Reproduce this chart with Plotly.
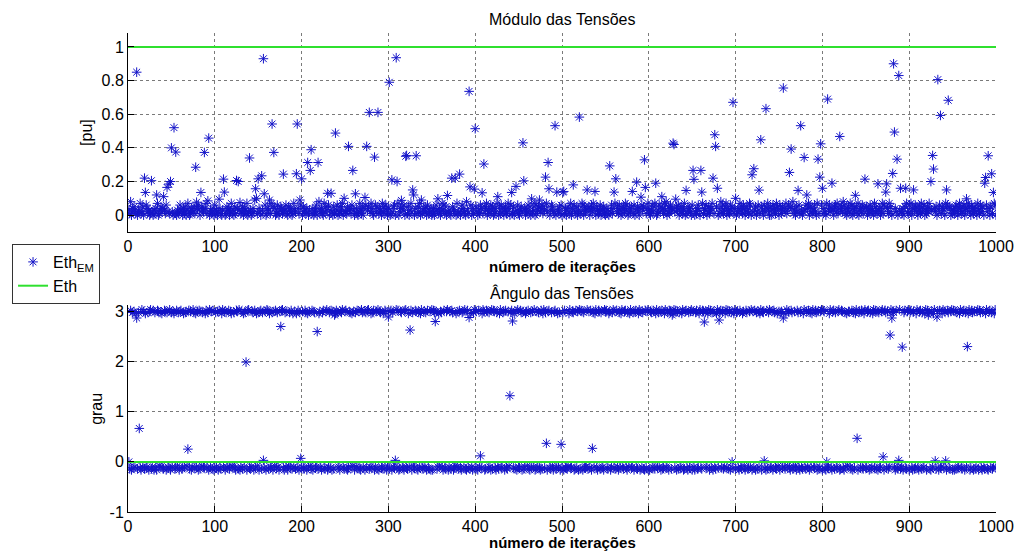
import plotly.graph_objects as go

# ---------------------------------------------------------------- dados
eixo_x = [0, 1000]
ticks_x = [0, 100, 200, 300, 400, 500, 600, 700, 800, 900, 1000]
ticks_modulo = [0, 0.2, 0.4, 0.6, 0.8, 1]
ticks_angulo = [-1, 0, 1, 2, 3]
faixa_modulo = [-0.1, 1.083]
faixa_angulo = [-1, 3.13]

eth_modulo = 1.0   # valor de referência do módulo [pu]
eth_angulo = 0.0   # valor de referência do ângulo [grau]

# módulo estimado em cada iteração, em centésimos de pu (faixa densa)
modulo_faixa = [
    "3120425314 0327125031 6423015203 1427013524 0316025143",
    "2041503126 3204150372 0143251024 6301532047 1250312406",
    "1302541036 2015340271 3051240361 2504317025 3014260315",
    "4201352601 4301725340 1620354102 3610534201 7325041360",
    "0523147032 5140236015 3241072531 6034205143 6021537042",
    "2150341623 0541027315 0426135027 4103625014 3072516304",
    "3014256031 7024153602 4150372160 4315270913 4250613240",
    "1402635140 2736150423 1065324071 2503641205 3172604135",
    "5203164012 5370241635 0142730516 2403512740 6315024361",
    "0352714032 6150423706 1350246153 0724103652 1407325160",
    "2614035217 0436215034 1276052314 5036274105 3126043510",
    "4130526143 7025163041 5273601425 3160375204 1635201473",
    "1036257401 3625041738 0251634072 1536042513 7061534206",
    "3502146305 2714360251 3470162530 4182613570 4216350142",
    "0241735164 0253176042 1350267145 3062147305 0362417530",
    "6315042713 6052481305 2461730253 6147052413 6207415362",
    "1420753624 1305627140 3528614035 2716043251 7034261504",
    "5032614307 2516340271 6530417250 3614270536 2140537216",
    "2704136520 3517246031 5274036142 5073621543 0716254031",
    "3156204731 5260413752 0641352073 1642503162 7405213760",
]

# iterações com módulo acima da faixa densa {iteração: pu}
modulo_picos = {
    3: 0.08, 10: 0.85, 19: 0.22, 20: 0.135, 27: 0.205, 33: 0.12, 41: 0.11,
    45: 0.165, 47: 0.185, 49: 0.20, 50: 0.40, 53: 0.52, 55: 0.375,
    78: 0.285, 79: 0.077, 84: 0.135, 88: 0.373, 92: 0.085, 93: 0.458,
    105: 0.095, 110: 0.214, 111: 0.137, 125: 0.206, 127: 0.20, 129: 0.075,
    140: 0.34, 146: 0.09, 147: 0.157, 148: 0.10, 150: 0.216, 154: 0.234,
    156: 0.93, 157: 0.127, 163: 0.09, 166: 0.542, 168: 0.373, 179: 0.244,
    194: 0.246, 195: 0.542, 198: 0.09, 200: 0.216, 207: 0.313, 210: 0.266,
    211: 0.389, 219: 0.313, 220: 0.08, 230: 0.13, 234: 0.13, 239: 0.488,
    249: 0.10, 254: 0.409, 259: 0.266, 262: 0.127, 273: 0.105, 275: 0.409,
    278: 0.611, 284: 0.345, 288: 0.611, 301: 0.79, 304: 0.21, 309: 0.936,
    310: 0.20, 315: 0.088, 320: 0.35, 321: 0.355, 328: 0.15, 329: 0.12,
    332: 0.353, 357: 0.097, 368: 0.117, 373: 0.22, 377: 0.22, 382: 0.244,
    390: 0.08, 393: 0.736, 394: 0.168, 399: 0.155, 400: 0.514, 408: 0.133,
    410: 0.304, 426: 0.11, 442: 0.135, 447: 0.171, 455: 0.43, 456: 0.204,
    465: 0.097, 474: 0.09, 481: 0.226, 484: 0.313, 485: 0.157, 492: 0.532,
    494: 0.137, 501: 0.137, 502: 0.141, 513: 0.18, 520: 0.583, 529: 0.15,
    538: 0.141, 555: 0.293, 560: 0.137, 562: 0.216, 581: 0.141, 586: 0.196,
    591: 0.107, 595: 0.329, 596: 0.165, 608: 0.19, 615: 0.11, 628: 0.428,
    629: 0.42, 631: 0.095, 643: 0.147, 651: 0.266, 652: 0.213, 660: 0.266,
    661: 0.137, 674: 0.22, 676: 0.478, 677: 0.409, 679: 0.16, 697: 0.671,
    700: 0.10, 719: 0.24, 721: 0.276, 727: 0.149, 729: 0.448, 735: 0.633,
    755: 0.756, 762: 0.254, 764: 0.393, 772: 0.147, 775: 0.532, 779: 0.343,
    782: 0.12, 795: 0.333, 797: 0.226, 798: 0.424, 800: 0.16, 806: 0.69,
    811: 0.19, 820: 0.468, 838: 0.118, 849: 0.214, 864: 0.186, 873: 0.137,
    874: 0.186, 881: 0.248, 882: 0.90, 883: 0.494, 886: 0.333, 888: 0.83,
    890: 0.16, 896: 0.16, 905: 0.15, 925: 0.20, 927: 0.355, 928: 0.274,
    933: 0.806, 936: 0.593, 943: 0.15, 945: 0.683, 966: 0.097, 987: 0.19,
    988: 0.224, 991: 0.353, 995: 0.246, 997: 0.135,
}

# ângulo estimado: letra maiúscula = faixa perto de 3, minúscula = perto de 0
angulo_codigos = {
    "A": 2.96, "B": 2.98, "C": 3.00, "D": 3.02, "E": 3.04,
    "a": -0.16, "b": -0.14, "c": -0.12, "d": -0.10, "e": -0.08,
}
angulo_faixa = [
    "CbDaBcCdAe bBDcaEdCbA cdBaCEbdDa BcaDCeBdAc bDCaBdcEaB",
    "dCAbcDeBaC DbcAdBCeaD bCadEBcAdC aDbCeBdcAD cBaEdCbDac",
    "BdCaDcbAEd CaBdcDbCAe dBcaDCbEad CbAdBcaDEc bdCBaDcAeB",
    "aCDbBdcCaE DbAcdBaCeD cBdaCbDEca BdCaeBcDbA dCbAcDaBEd",
    "CcbDBaAdCe bDaCBcdEbA CdaBDcbCEa dBcDaCbeAD BcdaCBEdbC",
    "DbacCBdAeC aBdDcCbaEB dCaBcDEbdA cBDadCbEaC BdcAbDCaeB",
    "bCDaBdcAEc DabCBdcaDE cbAdCDaBec DCbaBdAEcb CdBaDcbCaE",
    "aDBcCbdAeC BdaDcbCEad CbDBaceAdC bDcaBCdEba DcCbAdaBEc",
    "CbaDdBcAEC abDCcBdaEb DCcaBdbAEc dBCaDcbCea BDdcAbCaEd",
    "cDBaCbdACe DbaBcCdEab CdBcaDbAEc BdaCDcbBea CDbcAdBaEc",
    "BaDccbdAEc dCBabDcCaE bDCaBcddEb CcDabBdAEc aDCbBcdaEC",
    "DcbACadBEc CbDdaBcAEd bCDcaBdAEc dBaCDcbAEa CdBbaDcCEa",
    "aCBdDcbAEc BdCaDbcAEd cBaDCbdAEc DaCbBdcAEa bCDcaBdCEa",
    "CdaBDbcAEc bDCaBcdAEa DcBaCdbAEc aBDcCbdAEc DbCaBdcAEb",
    "BCcaDdbACe aDBbcCdEaC cDaBbCdAEa CBdcaDbBEc dCaDBcbAeC",
    "aBCcDdbAEe CcaDBbdCea DBcaCdbAEc bCdDaBcAEd cDBaCbdCEa",
    "DCbaBcdAEc aCDbBdcCEa bDCcaBdAeC CdbDaBcAEb aBCdDcbAEc",
    "cCDaBbdAEc DbCaBcdCEa aDBcCbdAEc CBdaDcbAEb dCaBDcbCEa",
    "BDcaCbdAEc aCDbBcdAEa DcBbaCdAEc bBCaDcdAEc CdaDBcbCEa",
    "DaCbBcdAEc bCDaBdcAEa cDBaCbdCEa DBcaCdbAEb aCDcBbdAEc",
]

# iterações com ângulo fora das duas faixas {iteração: grau}
angulo_picos = {
    1: 0.0, 10: 2.87, 13: 0.667, 69: 0.254, 136: 1.99, 156: 0.03,
    176: 2.70, 199: 0.07, 218: 2.60, 238: 2.93, 300: 2.89, 308: 0.03,
    325: 2.63, 354: 2.80, 393: 2.88, 406: 0.12, 440: 1.32, 443: 2.81,
    482: 0.37, 499: 0.35, 535: 0.27, 627: 2.93, 664: 2.79, 681: 2.83,
    696: 0.0, 733: 0.02, 755: 2.87, 805: 0.0, 840: 0.47, 870: 0.10,
    878: 2.53, 880: 2.87, 888: 0.03, 892: 2.29, 922: 2.93, 930: 0.02,
    932: 2.89, 942: 0.02, 967: 2.30,
}

# ---------------------------------------------------------------- séries
modulo = [int(c) / 100 for c in "".join(modulo_faixa).replace(" ", "")]
for it, v in modulo_picos.items():
    modulo[it - 1] = v
iter_modulo = list(range(1, len(modulo) + 1))

angulo = [angulo_codigos[c] for c in "".join(angulo_faixa).replace(" ", "")]
for it, v in angulo_picos.items():
    angulo[it - 1] = v
iter_angulo = list(range(1, len(angulo) + 1))

# ---------------------------------------------------------------- estilo
FONTE = "Liberation Sans, Arial, sans-serif"
AZUL = "#1414c8"
VERDE = "#2fe02f"

marcador = dict(symbol="asterisk-open", size=8, color=AZUL,
                line=dict(color=AZUL, width=1))

fig = go.Figure()

fig.add_trace(go.Scatter(
    x=iter_modulo, y=modulo, mode="markers", marker=marcador,
    name="Eth<sub>EM</sub>", xaxis="x", yaxis="y", showlegend=True,
))
fig.add_trace(go.Scatter(
    x=eixo_x, y=[eth_modulo, eth_modulo], mode="lines",
    line=dict(color=VERDE, width=2), name="Eth",
    xaxis="x", yaxis="y", showlegend=True,
))
fig.add_trace(go.Scatter(
    x=iter_angulo, y=angulo, mode="markers", marker=marcador,
    name="Eth<sub>EM</sub>", xaxis="x2", yaxis="y2", showlegend=False,
))
fig.add_trace(go.Scatter(
    x=eixo_x, y=[eth_angulo, eth_angulo], mode="lines",
    line=dict(color=VERDE, width=2), name="Eth",
    xaxis="x2", yaxis="y2", showlegend=False,
))

eixo_comum = dict(
    showline=True, linecolor="black", linewidth=1, mirror=False,
    ticks="inside", ticklen=6, tickcolor="black", tickwidth=1,
    showgrid=True, gridcolor="#7a7a7a", griddash="dot", gridwidth=1,
    zeroline=False, tickfont=dict(family=FONTE, size=16, color="black"),
)

fig.update_layout(
    width=1026, height=554,
    margin=dict(l=125, r=25, t=33, b=42),
    paper_bgcolor="white", plot_bgcolor="white",
    font=dict(family=FONTE, size=16, color="black"),
    xaxis=dict(eixo_comum, domain=[0, 1], anchor="y", range=eixo_x,
               tickvals=ticks_x, ticktext=[str(v) for v in ticks_x]),
    yaxis=dict(eixo_comum, domain=[0.5846, 1], anchor="x", range=faixa_modulo,
               tickvals=ticks_modulo,
               ticktext=[("%g" % v) for v in ticks_modulo]),
    xaxis2=dict(eixo_comum, domain=[0, 1], anchor="y2", range=eixo_x,
                tickvals=ticks_x, ticktext=[str(v) for v in ticks_x]),
    yaxis2=dict(eixo_comum, domain=[0, 0.4322], anchor="x2", range=faixa_angulo,
                tickvals=ticks_angulo,
                ticktext=[str(v) for v in ticks_angulo]),
    legend=dict(
        x=-0.1336, y=0.5595, xanchor="left", yanchor="top",
        bgcolor="white", bordercolor="#333333", borderwidth=1,
        font=dict(family=FONTE, size=16, color="black"),
        tracegroupgap=0, itemwidth=30,
    ),
)

textos = [
    dict(text="Módulo das Tensões", x=0.5, y=1.029, bold=False),
    dict(text="número de iterações", x=0.5, y=0.5115, bold=True),
    dict(text="Ângulo das Tensões", x=0.5, y=0.4572, bold=False),
    dict(text="número de iterações", x=0.5, y=-0.0647, bold=True),
]
for t in textos:
    fig.add_annotation(
        text=("<b>%s</b>" % t["text"]) if t["bold"] else t["text"],
        xref="paper", yref="paper", x=t["x"], y=t["y"],
        xanchor="center", yanchor="middle", showarrow=False,
        font=dict(family=FONTE, size=15 if t["bold"] else 16, color="black"),
    )

for rotulo, xp, yp in [("[pu]", -0.0479, 0.7923), ("grau", -0.0365, 0.216)]:
    fig.add_annotation(
        text=rotulo, xref="paper", yref="paper", x=xp, y=yp,
        xanchor="center", yanchor="middle", textangle=-90, showarrow=False,
        font=dict(family=FONTE, size=16, color="black"),
    )

fig.write_html("out.html")
